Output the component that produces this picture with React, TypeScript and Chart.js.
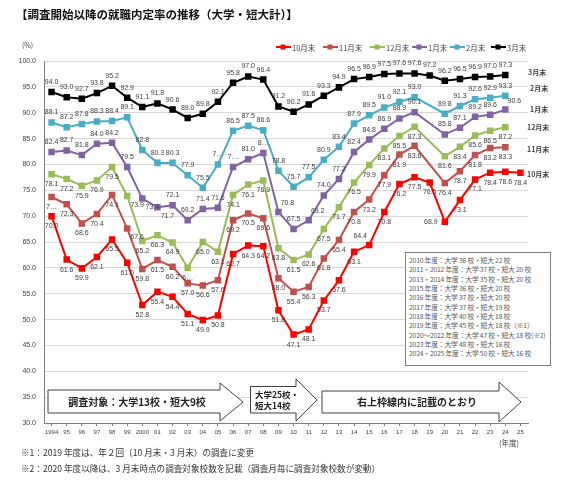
import React, { useEffect, useRef } from "react";
import { Chart, registerables } from "chart.js";

Chart.register(...registerables);

// ---------- data ----------
const years = [
  "1994", "95", "96", "97", "98", "99", "2000", "01", "02", "03", "04", "05", "06", "07", "08", "09",
  "10", "11", "12", "13", "14", "15", "16", "17", "18", "19", "20", "21", "22", "23", "24", "25",
];

const oct = [
  70.0, 61.6, 59.9, 62.1, 65.5, 61.0, 52.8, 55.4, 54.4, 51.1, 49.9, 50.8, 62.7, 64.3, 64.2, 51.8,
  47.1, 48.1, 53.7, 57.6, 63.1, 64.4, 70.8, 76.2, 77.5, 76.5, 68.9, 73.1, 77.1, 78.4, 78.6, 78.4,
];
const nov = [
  73.7, 72.3, 68.6, 70.4, 74.1, 67.6, 59.8, 61.5, 60.2, 57.0, 56.6, 57.6, 69.2, 70.5, 69.6, 58.0,
  55.4, 56.3, 61.8, 65.4, 70.8, 73.2, 77.9, 81.9, 83.6, null, 76.4, 78.7, 81.8, 83.2, 83.3, null,
];
const dec = [
  78.1, 77.2, 75.9, 76.9, 79.5, 73.9, 65.2, 66.3, 64.9, 60.0, 65.0, 63.1, 74.1, 76.1, 76.9, 63.8,
  61.5, 62.6, 67.5, 71.7, 76.5, 79.9, 83.1, 85.5, 87.3, null, 81.6, 83.4, 85.6, 86.5, 87.2, null,
];
const jan = [
  82.4, 82.7, 81.8, 84.0, 84.2, 79.5, 73.4, 71.7, 72.1, 69.2, 71.4, 71.6, 79.5, 81.0, 82.2, 70.8,
  67.5, 69.2, 74.0, 77.2, 82.4, 84.8, 86.9, 88.9, 90.1, null, 85.8, 87.1, 89.2, 89.6, 90.6, null,
];
const feb = [
  88.1, 87.2, 87.8, 88.3, 88.4, 89.1, 82.8, 80.3, 80.3, 77.9, 75.5, 80.0, 86.5, 87.5, 86.6, 78.8,
  75.7, 77.5, 80.9, 83.4, 87.9, 89.5, 91.0, 92.1, 93.0, null, 89.8, 91.3, 92.6, 92.9, 93.3, null,
];
const mar = [
  94.0, 93.0, 92.7, 93.8, 95.2, 92.9, 91.1, 91.8, 90.6, 89.0, 89.8, 92.1, 95.8, 97.0, 96.4, 91.2,
  90.2, 91.6, 93.3, 94.9, 96.5, 96.9, 97.5, 97.6, 97.6, 97.2, 96.2, 96.5, 96.9, 97.0, 97.3, null,
];

const seriesNames = ["10月末", "11月末", "12月末", "1月末", "2月末", "3月末"];
const seriesValues = [oct, nov, dec, jan, feb, mar];

const yTicksMin = 30;
const yTicksMax = 100;
const yTickStep = 5;

const schoolNotes = [
  "2010 年度：大学 36 校・短大 22 校",
  "2011・2012 年度：大学 37 校・短大 20 校",
  "2013・2014 年度：大学 35 校・短大 20 校",
  "2015 年度：大学 36 校・短大 20 校",
  "2016 年度：大学 37 校・短大 20 校",
  "2017 年度：大学 37 校・短大 19 校",
  "2018 年度：大学 40 校・短大 18 校",
  "2019 年度：大学 45 校・短大 18 校（※1）",
  "2020～2022 年度：大学 47 校・短大 18 校(※2)",
  "2023 年度：大学 48 校・短大 16 校",
  "2024・2025 年度：大学 50 校・短大 16 校",
];

// ---------- styles ----------
const seriesColors = ["#FF0000", "#C0504D", "#9BBB59", "#8064A2", "#4BACC6", "#000000"];
const labelDefault = ["b", "b", "b", "a", "a", "a"];
const labelOverride: Record<number, Record<number, string>> = {
  0: { 21: "al", 26: "l" },
  1: { 5: "br" },
  2: { 5: "br" },
  3: { 6: "br", 7: "br", 15: "ar", 17: "ar", 30: "ar" },
};
const truncatedLabels: Record<number, Record<number, string>> = {
  1: { 0: "7…" },
  2: { 9: "6…" },
  3: { 12: "7…", 14: "8…" },
  4: { 11: "7…" },
};

const LABEL_FONT = '7px "Liberation Sans", Arial, sans-serif';
const JP = '"Noto Sans CJK JP", "Noto Sans", sans-serif';

const pointLabelPlugin = {
  id: "pointLabels",
  afterDatasetsDraw(chart: any) {
    const ctx = chart.ctx;
    ctx.save();
    ctx.font = LABEL_FONT;
    ctx.fillStyle = "#404040";
    ctx.textAlign = "center";
    ctx.textBaseline = "middle";
    chart.data.datasets.forEach((ds: any, di: number) => {
      const meta = chart.getDatasetMeta(di);
      meta.data.forEach((pt: any, i: number) => {
        const v = ds.data[i];
        if (v == null) return;
        const pos = (labelOverride[di] && labelOverride[di][i]) || labelDefault[di];
        let dx = 0;
        let dy = 0;
        if (pos === "a") dy = -10;
        else if (pos === "b") dy = 10;
        else if (pos === "ar") { dx = 9; dy = -9; }
        else if (pos === "al") { dx = -9; dy = -9; }
        else if (pos === "br") { dx = 10; dy = 9; }
        else if (pos === "l") { dx = -14; dy = 0; }
        else if (pos === "r") { dx = 14; dy = 0; }
        const txt = (truncatedLabels[di] && truncatedLabels[di][i]) || Number(v).toFixed(1);
        ctx.fillText(txt, pt.x + dx, pt.y + dy);
      });
    });
    ctx.restore();
  },
};

const legendX = [276, 323, 370, 412, 450, 491];
const rightLabels = [
  { name: "3月末", x: 528, y: 72 },
  { name: "2月末", x: 530, y: 88 },
  { name: "1月末", x: 530, y: 109 },
  { name: "12月末", x: 527, y: 127 },
  { name: "11月末", x: 527, y: 149 },
  { name: "10月末", x: 527, y: 174 },
];

export default function App() {
  const canvasRef = useRef<HTMLCanvasElement | null>(null);

  useEffect(() => {
    const canvas = canvasRef.current;
    if (!canvas) return;
    const datasets = seriesValues.map((vals, i) => ({
      label: seriesNames[i],
      data: vals,
      borderColor: seriesColors[i],
      backgroundColor: seriesColors[i],
      borderWidth: 2,
      pointStyle: "rect" as const,
      pointRadius: 4.6,
      pointBorderWidth: 0,
      tension: 0,
      spanGaps: true,
      segment: {
        borderDash: (c: any) => (c.p1DataIndex - c.p0DataIndex > 1 ? [4, 3] : undefined),
      },
    }));
    const chart = new Chart(canvas, {
      type: "line",
      data: { labels: years, datasets },
      options: {
        animation: false,
        responsive: false,
        maintainAspectRatio: false,
        layout: { padding: { top: 61, right: 46, left: 0, bottom: 0 } },
        plugins: { legend: { display: false }, tooltip: { enabled: false } },
        scales: {
          x: {
            type: "category",
            offset: true,
            grid: {
              display: true,
              drawOnChartArea: false,
              drawTicks: true,
              tickLength: 3,
              color: "#808080",
              offset: false,
            },
            border: { color: "#808080" },
            ticks: {
              autoSkip: false,
              maxRotation: 0,
              minRotation: 0,
              font: { size: 6, family: '"Liberation Sans", Arial, sans-serif' },
              color: "#404040",
              padding: 3,
            },
            afterFit: (s: any) => {
              s.height = 57;
            },
          },
          y: {
            min: yTicksMin,
            max: yTicksMax,
            ticks: {
              stepSize: yTickStep,
              callback: (v: any) => Number(v).toFixed(1),
              font: { size: 7, family: '"Liberation Sans", Arial, sans-serif' },
              color: "#404040",
              padding: 8,
            },
            grid: { color: "#D9D9D9", drawTicks: false },
            border: { color: "#808080" },
            afterFit: (s: any) => {
              s.width = 44;
            },
          },
        },
      },
      plugins: [pointLabelPlugin],
    });
    return () => chart.destroy();
  }, []);

  return (
    <div style={{ position: "absolute", left: 0, top: 0, width: 574, height: 480, background: "#fff", overflow: "hidden" }}>
      <canvas ref={canvasRef} width={574} height={480} style={{ position: "absolute", left: 0, top: 0, width: 574, height: 480 }} />
      <div style={{ position: "absolute", left: 16, top: 6, fontFamily: JP, fontWeight: 700, fontSize: 11.5, color: "#111", whiteSpace: "nowrap" }}>
        【調査開始以降の就職内定率の推移（大学・短大計）】
      </div>
      <div style={{ position: "absolute", left: 22, top: 40, fontFamily: JP, fontSize: 7, color: "#404040" }}>(%)</div>
      {seriesNames.map((n, i) => (
        <div key={n} style={{ position: "absolute", left: legendX[i], top: 42, height: 10, display: "flex", alignItems: "center", whiteSpace: "nowrap" }}>
          <svg width={15} height={10} style={{ display: "block" }}>
            <line x1={0} y1={5} x2={15} y2={5} stroke={seriesColors[i]} strokeWidth={2} />
            <rect x={4.5} y={2.5} width={5} height={5} fill={seriesColors[i]} />
          </svg>
          <span style={{ fontFamily: JP, fontSize: 7.5, color: "#404040", marginLeft: 1 }}>{n}</span>
        </div>
      ))}
      {rightLabels.map((r) => (
        <div key={r.name} style={{ position: "absolute", left: r.x, top: r.y - 5, fontFamily: JP, fontSize: 7, fontWeight: 700, color: "#404040", whiteSpace: "nowrap", lineHeight: "10px" }}>
          {r.name}
        </div>
      ))}
      <div style={{ position: "absolute", left: 405, top: 252, width: 146, height: 114, border: "1px solid #808080", background: "#fff", boxSizing: "border-box", padding: "3px 0 0 3px" }}>
        {schoolNotes.map((t) => (
          <div key={t} style={{ fontFamily: JP, fontSize: 6.8, lineHeight: "9.35px", color: "#595959", whiteSpace: "nowrap", letterSpacing: -0.2 }}>{t}</div>
        ))}
      </div>
      <svg width={574} height={480} style={{ position: "absolute", left: 0, top: 0, pointerEvents: "none" }}>
        <path d="M48,390 L220,390 L220,383 L243,402 L220,421 L220,413 L48,413 Z" fill="#fff" stroke="#404040" strokeWidth={1} />
        <path d="M250.5,386.5 L296,386.5 L296,379 L317,400 L296,421 L296,413 L250.5,413 Z" fill="#fff" stroke="#404040" strokeWidth={1} />
        <path d="M322,391 L499,391 L499,382 L521,402 L499,422 L499,413 L322,413 Z" fill="#fff" stroke="#404040" strokeWidth={1} />
        <text x={137} y={405.5} textAnchor="middle" fontFamily={JP} fontSize={10} fontWeight={700} fill="#222">調査対象：大学13校・短大9校</text>
        <text x={255} y={398} fontFamily={JP} fontSize={8.5} fontWeight={700} fill="#222">大学25校・</text>
        <text x={255} y={409} fontFamily={JP} fontSize={8.5} fontWeight={700} fill="#222">短大14校</text>
        <text x={417} y={405.5} textAnchor="middle" fontFamily={JP} fontSize={10} fontWeight={700} fill="#222">右上枠線内に記載のとおり</text>
      </svg>
      <div style={{ position: "absolute", left: 499, top: 437, fontFamily: JP, fontSize: 7.5, color: "#404040" }}>(年度)</div>
      <div style={{ position: "absolute", left: 21, top: 446, fontFamily: JP, fontSize: 8.6, color: "#333", whiteSpace: "nowrap" }}>
        ※1：2019 年度は、年２回（10 月末・3 月末）の調査に変更
      </div>
      <div style={{ position: "absolute", left: 21, top: 462, fontFamily: JP, fontSize: 8.6, color: "#333", whiteSpace: "nowrap" }}>
        ※2：2020 年度以降は、3 月末時点の調査対象校数を記載（調査月毎に調査対象校数が変動）
      </div>
    </div>
  );
}
